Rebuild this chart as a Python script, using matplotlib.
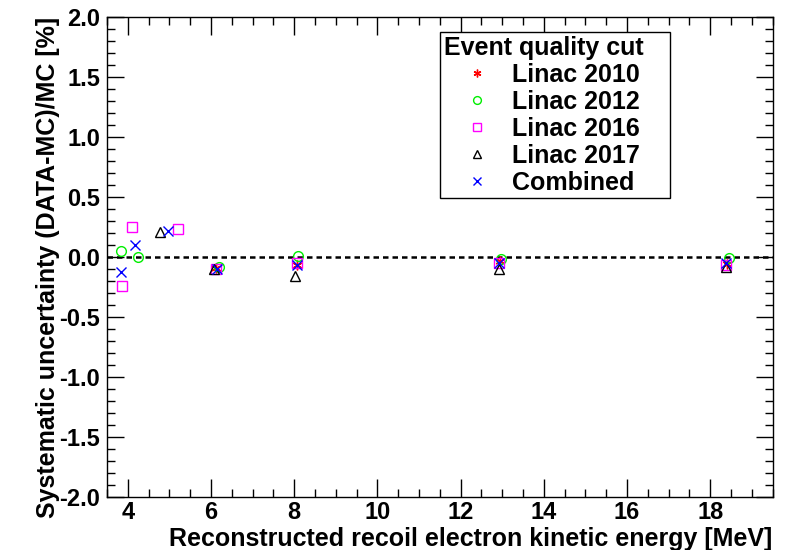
import numpy as np
import matplotlib
matplotlib.use("Agg")
import matplotlib.pyplot as plt
from matplotlib.ticker import MultipleLocator, FormatStrFormatter

plt.rcParams['font.family'] = ['Liberation Sans', 'DejaVu Sans']
plt.rcParams['font.weight'] = 'bold'

# energies [MeV] and (DATA-MC)/MC [%] per sample
x_2010 = [6.13, 8.06, 12.95, 18.40]
y_2010 = [-0.09, -0.07, -0.03, -0.06]

x_2012 = [3.83, 4.24, 6.19, 8.09, 12.96, 18.45]
y_2012 = [0.05, 0.00, -0.08, 0.01, -0.02, -0.01]

x_2016 = [3.85, 4.09, 5.20, 6.12, 8.06, 12.92, 18.37]
y_2016 = [-0.24, 0.25, 0.23, -0.10, -0.05, -0.05, -0.07]

x_2017 = [4.77, 6.07, 8.03, 12.92, 18.38]
y_2017 = [0.21, -0.10, -0.16, -0.10, -0.08]

x_comb = [3.83, 4.18, 4.96, 6.15, 8.06, 12.93, 18.39]
y_comb = [-0.125, 0.10, 0.22, -0.10, -0.07, -0.05, -0.05]

fig = plt.figure(figsize=(7.9, 5.5), dpi=100)
ax = fig.add_axes([0.1354, 0.0964, 0.8426, 0.8727])

ax.axhline(0, color='black', ls=(0, (2.2, 1.6)), lw=1.8, zorder=1)

ms = 7
ax.plot(x_2010, y_2010, ls='none', marker=(6, 2, 0), ms=ms, mec='red', mew=1.0,
        label='Linac 2010', zorder=3)
ax.plot(x_2012, y_2012, ls='none', marker='o', ms=ms, mfc='none', mec='#00ee00',
        mew=1.0, label='Linac 2012', zorder=3)
ax.plot(x_2016, y_2016, ls='none', marker='s', ms=ms, mfc='none', mec='magenta',
        mew=1.0, label='Linac 2016', zorder=3)
ax.plot(x_2017, y_2017, ls='none', marker='^', ms=ms, mfc='none', mec='black',
        mew=1.0, label='Linac 2017', zorder=3)
ax.plot(x_comb, y_comb, ls='none', marker='x', ms=ms, mec='blue', mew=1.0,
        label='Combined', zorder=4)

ax.set_xlim(3.5, 19.5)
ax.set_ylim(-2.0, 2.0)
ax.xaxis.set_major_locator(MultipleLocator(2))
ax.xaxis.set_minor_locator(MultipleLocator(0.5))
ax.yaxis.set_major_locator(MultipleLocator(0.5))
ax.yaxis.set_minor_locator(MultipleLocator(0.1))
ax.yaxis.set_major_formatter(FormatStrFormatter('%.1f'))

ax.tick_params(which='both', direction='in', top=True, right=True,
               labelsize=17, width=1, color='black')
ax.tick_params(axis='x', which='major', length=13, pad=3)
ax.tick_params(axis='x', which='minor', length=6)
ax.tick_params(axis='y', which='major', length=12, pad=5)
ax.tick_params(axis='y', which='minor', length=6)
for sp in ax.spines.values():
    sp.set_linewidth(1.0)

ax.set_xlabel('Reconstructed recoil electron kinetic energy [MeV]', fontsize=18,
              fontweight='bold', loc='right')
ax.xaxis.set_label_coords(1.0, -0.062)
ax.xaxis.label.set_va('top')
ax.set_ylabel('Systematic uncertainty (DATA-MC)/MC [%]', fontsize=18,
              fontweight='bold', loc='top')
ax.yaxis.set_label_coords(-0.07, 1.0)

leg = ax.legend(loc='upper left', bbox_to_anchor=(0.501, 0.624, 0.345, 0.345),
                mode='expand', borderaxespad=0,
                title='Event quality cut', fontsize=18, title_fontsize=18,
                frameon=True, fancybox=False, edgecolor='black', framealpha=1,
                handlelength=2.6, handletextpad=0.12, labelspacing=0.12,
                borderpad=0.15, markerscale=0.8)
leg._legend_box.align = 'left'
leg.get_frame().set_linewidth(1.0)
for t in leg.get_texts():
    t.set_fontweight('bold')
leg.get_title().set_fontweight('bold')

fig.savefig('out.png', dpi=100)
